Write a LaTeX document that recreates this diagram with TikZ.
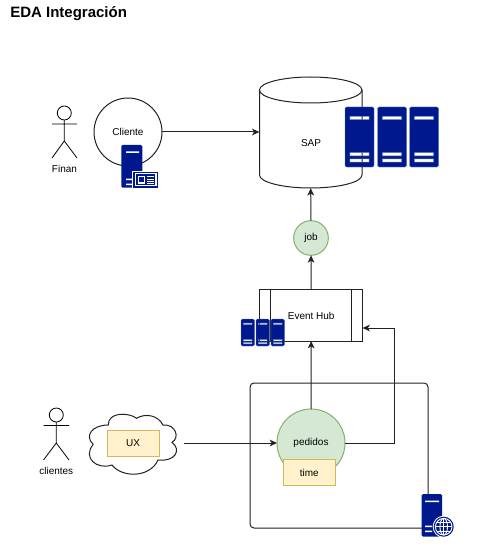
\documentclass[tikz,border=0pt]{standalone}
\usepackage{fontspec}
\setmainfont{Liberation Sans}
\usepackage{xcolor}
\usetikzlibrary{shapes,arrows.meta,calc}
\definecolor{servernavy}{HTML}{00188D}
\definecolor{serverline}{HTML}{6881B3}
\definecolor{greenfill}{HTML}{D5E8D4}
\definecolor{greenline}{HTML}{82B366}
\definecolor{notefill}{HTML}{FFF2CC}
\definecolor{noteline}{HTML}{D6B656}
\definecolor{edgecolor}{HTML}{222222}
% x, y of top left corner, width, height
\newcommand{\serverrack}[4]{%
  \fill[servernavy, draw=serverline, line width=0.3pt, even odd rule, rounded corners=1pt]
    (#1,#2) rectangle ++(#3,#4)
    [sharp corners]
    (#1+0.17*#3,#2+0.155*#4) rectangle ++(0.66*#3,0.055*#4)
    (#1+0.17*#3,#2+0.76*#4) rectangle ++(0.66*#3,0.055*#4)
    (#1+0.17*#3,#2+0.865*#4) rectangle ++(0.66*#3,0.055*#4);
}
\tikzset{
  labeltext/.style={font=\fontsize{7.5}{9}\selectfont, text=black, inner sep=0pt},
  flow/.style={edgecolor, line width=0.75pt, -{Stealth[length=5.5pt,width=5pt,inset=1.5pt]}},
  plainline/.style={edgecolor, line width=0.75pt},
  actorline/.style={black, line width=0.6pt},
  circlebox/.style={circle, draw=edgecolor, fill=white, line width=0.75pt, inner sep=0pt, outer sep=0pt, minimum size=51pt, labeltext},
  greencircle/.style={circle, draw=greenline, fill=greenfill, line width=0.75pt, inner sep=0pt, outer sep=0pt, labeltext},
  notebox/.style={rectangle, draw=noteline, fill=notefill, line width=0.75pt, inner sep=0pt, outer sep=0pt, minimum width=39pt, minimum height=19.5pt, labeltext},
}
\begin{document}
\begin{tikzpicture}[x=0.75pt,y=-0.75pt]
    \useasboundingbox (0,0) rectangle (476,549);

    % Title
    \node[anchor=west, inner sep=0pt, font=\fontsize{11.25}{13}\selectfont\bfseries] (title) at (10,14) {EDA Integración};

    % Actors
    \draw[actorline] (64.3,113) circle (7);
    \draw[actorline] (64.3,120) -- (64.3,141) (52,124) -- (77,124) (52,158) -- (64.3,141) -- (77,158);
    \node[labeltext] (finan) at (64.5,169) {Finan};
    \draw[actorline] (56.3,415) circle (7);
    \draw[actorline] (56.3,422) -- (56.3,443) (43.5,425.5) -- (69,425.5) (43.5,460) -- (56.3,443) -- (69,460);
    \node[labeltext] (clientes) at (56.3,471) {clientes};

    % Cliente
    \node[circlebox] (cliente) at (128,132) {Cliente};
    \fill[servernavy, rounded corners=1pt] (121.3,145) rectangle (142.3,187.7);
    \fill[white] (126,151.5) rectangle (139,153) (126,178.5) rectangle (133,180) (126,183.5) rectangle (133,185);
    \fill[white] (132.3,170.7) rectangle (158.5,188);
    \fill[servernavy] (133.3,171.7) rectangle (158,187.7);
    \fill[white] (134.8,173.2) rectangle (156.5,186.2);
    \fill[servernavy] (136,174.4) rectangle (155.3,185);
    \fill[white] (137.5,176) rectangle (145,183.5);
    \fill[servernavy] (138.7,177.2) rectangle (143.8,182.3);
    \foreach \ly in {176,178.5,181,183}
        \fill[white] (146.5,\ly) rectangle (154,\ly+1.2);

    % SAP
    \node[minimum width=77pt, minimum height=83.5pt, inner sep=0pt, outer sep=0pt] (sap) at (310.7,132.5) {};
    \draw[plainline, fill=white] (259.5,90) -- (259.5,175)
        .. controls (259.5,182.2) and (282.4,188) .. (310.7,188)
        .. controls (339,188) and (362,182.2) .. (362,175) -- (362,90);
    \draw[plainline, fill=white] (310.7,90) ellipse (51.25 and 13);
    \node[labeltext] (saplabel) at (311,143) {SAP};
    \foreach \sx in {345,377.5,409.5}
        {\serverrack{\sx}{107}{29}{60}}

    % Event Hub
    \node[rectangle, draw=edgecolor, fill=white, line width=0.75pt, inner sep=0pt, outer sep=0pt,
        minimum width=76.9pt, minimum height=38.3pt, labeltext] (hub) at (311.2,315.5) {Event Hub};
    \draw[plainline] ($(hub.north west)+(10.5,0)$) -- ($(hub.south west)+(10.5,0)$);
    \draw[plainline] ($(hub.north east)+(-10.5,0)$) -- ($(hub.south east)+(-10.5,0)$);
    \foreach \sx in {241,256,271}
        {\serverrack{\sx}{319}{13.5}{27}}

    % job
    \node[greencircle, minimum size=26pt] (job) at (311,238) {job};

    % Processing area
    \draw[edgecolor, line width=0.75pt, rounded corners=3pt] (250,383) rectangle (428,528);
    \node[greencircle, minimum size=51pt] (pedidos) at (311,443) {pedidos};
    \node[notebox] (time) at (309.3,472.7) {time};

    % Cloud
    \draw[edgecolor, line width=0.75pt, fill=white] (93.3,444.3)
        .. controls (84,436) and (92,425) .. (108.3,425)
        .. controls (108,412) and (128,412) .. (136.7,418.3)
        .. controls (145,413) and (158,415) .. (163,425)
        .. controls (176,424) and (180,438) .. (172,442.3)
        .. controls (182,450) and (175,462) .. (158,460)
        .. controls (150,478) and (122,478) .. (112,465)
        .. controls (97,470) and (82,458) .. (93.3,444.3);
    \node[notebox] (ux) at (133,443) {UX};
    \coordinate (uxout) at (184,443);

    % Web server
    \fill[servernavy, rounded corners=1pt] (421.7,494) rectangle (442,536.7);
    \fill[white] (425,500.5) rectangle (439,502) (425,525.5) rectangle (432,527) (425,530.5) rectangle (432,532);
    \fill[white] (443.7,526.7) circle (11);
    \fill[servernavy] (443.7,526.7) circle (10);
    \begin{scope}[white, line width=0.7pt]
        \draw (443.7,526.7) circle (8.3);
        \draw (443.7,526.7) ellipse (3.8 and 8.3);
        \draw (443.7,518.4) -- (443.7,535);
        \draw (435.4,526.7) -- (452,526.7);
        \draw (437,522.3) -- (450.4,522.3);
        \draw (437,531.1) -- (450.4,531.1);
    \end{scope}

    % Connectors
    \coordinate (hubin) at (362.5,328);
    \coordinate (bend) at (394,328);
    \draw[flow] (cliente) -- (sap.west |- cliente);
    \draw[flow] (job) -- (sap.south);
    \draw[flow] (hub) -- (job);
    \draw[flow] (pedidos) -- (hub);
    \draw[flow] (pedidos.east) -| (bend) -- (hubin);
    \draw[flow] (uxout) -- (pedidos.west);
\end{tikzpicture}
\end{document}
